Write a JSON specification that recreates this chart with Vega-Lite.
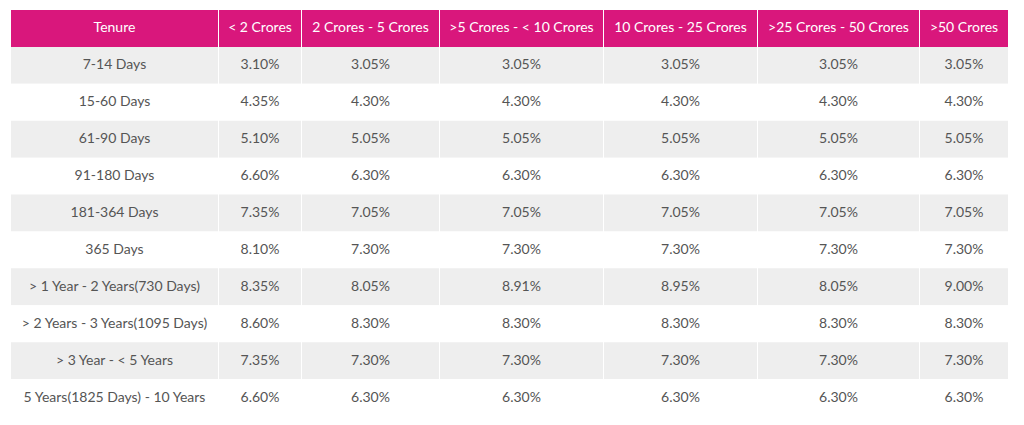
{
  "$schema": "https://vega.github.io/schema/vega-lite/v6.json",
  "padding": {"left": 11, "top": 10, "right": 0, "bottom": 0},
  "background": "#ffffff",
  "config": {
    "view": {"stroke": null},
    "concat": {"spacing": 1},
    "text": {"font": "Lato", "fontSize": 14}
  },
  "datasets": {
    "table": [
      {"tenure": "Tenure", "c1": "< 2 Crores", "c2": "2 Crores - 5 Crores", "c3": ">5 Crores - < 10 Crores", "c4": "10 Crores - 25 Crores", "c5": ">25 Crores - 50 Crores", "c6": ">50 Crores"},
      {"tenure": "7-14 Days", "c1": "3.10%", "c2": "3.05%", "c3": "3.05%", "c4": "3.05%", "c5": "3.05%", "c6": "3.05%"},
      {"tenure": "15-60 Days", "c1": "4.35%", "c2": "4.30%", "c3": "4.30%", "c4": "4.30%", "c5": "4.30%", "c6": "4.30%"},
      {"tenure": "61-90 Days", "c1": "5.10%", "c2": "5.05%", "c3": "5.05%", "c4": "5.05%", "c5": "5.05%", "c6": "5.05%"},
      {"tenure": "91-180 Days", "c1": "6.60%", "c2": "6.30%", "c3": "6.30%", "c4": "6.30%", "c5": "6.30%", "c6": "6.30%"},
      {"tenure": "181-364 Days", "c1": "7.35%", "c2": "7.05%", "c3": "7.05%", "c4": "7.05%", "c5": "7.05%", "c6": "7.05%"},
      {"tenure": "365 Days", "c1": "8.10%", "c2": "7.30%", "c3": "7.30%", "c4": "7.30%", "c5": "7.30%", "c6": "7.30%"},
      {"tenure": "> 1 Year - 2 Years(730 Days)", "c1": "8.35%", "c2": "8.05%", "c3": "8.91%", "c4": "8.95%", "c5": "8.05%", "c6": "9.00%"},
      {"tenure": "> 2 Years - 3 Years(1095 Days)", "c1": "8.60%", "c2": "8.30%", "c3": "8.30%", "c4": "8.30%", "c5": "8.30%", "c6": "8.30%"},
      {"tenure": "> 3 Year - < 5 Years", "c1": "7.35%", "c2": "7.30%", "c3": "7.30%", "c4": "7.30%", "c5": "7.30%", "c6": "7.30%"},
      {"tenure": "5 Years(1825 Days) - 10 Years", "c1": "6.60%", "c2": "6.30%", "c3": "6.30%", "c4": "6.30%", "c5": "6.30%", "c6": "6.30%"}
    ]
  },
  "data": {"name": "table"},
  "hconcat": [
    {
      "width": 207, "height": 406,
      "layer": [
        {"mark": {"type": "rect"},
         "encoding": {
           "x": {"value": 0}, "x2": {"value": "width"},
           "y": {"field": "tenure", "type": "nominal", "sort": null, "axis": null, "scale": {"paddingInner": 0, "paddingOuter": 0}},
           "color": {"field": "tenure", "type": "nominal", "sort": null, "legend": null,
             "scale": {"domain": ["Tenure", "7-14 Days", "15-60 Days", "61-90 Days", "91-180 Days", "181-364 Days", "365 Days", "> 1 Year - 2 Years(730 Days)", "> 2 Years - 3 Years(1095 Days)", "> 3 Year - < 5 Years", "5 Years(1825 Days) - 10 Years"],
                       "range": ["#d9177c", "#eeeeee", "#ffffff", "#eeeeee", "#ffffff", "#eeeeee", "#ffffff", "#eeeeee", "#ffffff", "#eeeeee", "#ffffff"]}}
         }},
        {"mark": {"type": "text", "baseline": "middle", "align": "center"},
         "encoding": {
           "y": {"field": "tenure", "type": "nominal", "sort": null},
           "text": {"field": "tenure"},
           "color": {"condition": {"test": "datum.tenure === 'Tenure'", "value": "#ffffff"}, "value": "#555555"}
         }}
      ]
    },
    {
      "width": 82, "height": 406,
      "layer": [
        {"mark": {"type": "rect"},
         "encoding": {
           "x": {"value": 0}, "x2": {"value": "width"},
           "y": {"field": "tenure", "type": "nominal", "sort": null, "axis": null, "scale": {"paddingInner": 0, "paddingOuter": 0}},
           "color": {"field": "tenure", "type": "nominal", "sort": null, "legend": null,
             "scale": {"domain": ["Tenure", "7-14 Days", "15-60 Days", "61-90 Days", "91-180 Days", "181-364 Days", "365 Days", "> 1 Year - 2 Years(730 Days)", "> 2 Years - 3 Years(1095 Days)", "> 3 Year - < 5 Years", "5 Years(1825 Days) - 10 Years"],
                       "range": ["#d9177c", "#eeeeee", "#ffffff", "#eeeeee", "#ffffff", "#eeeeee", "#ffffff", "#eeeeee", "#ffffff", "#eeeeee", "#ffffff"]}}
         }},
        {"mark": {"type": "text", "baseline": "middle", "align": "center"},
         "encoding": {
           "y": {"field": "tenure", "type": "nominal", "sort": null},
           "text": {"field": "c1"},
           "color": {"condition": {"test": "datum.tenure === 'Tenure'", "value": "#ffffff"}, "value": "#555555"}
         }}
      ]
    },
    {
      "width": 137, "height": 406,
      "layer": [
        {"mark": {"type": "rect"},
         "encoding": {
           "x": {"value": 0}, "x2": {"value": "width"},
           "y": {"field": "tenure", "type": "nominal", "sort": null, "axis": null, "scale": {"paddingInner": 0, "paddingOuter": 0}},
           "color": {"field": "tenure", "type": "nominal", "sort": null, "legend": null,
             "scale": {"domain": ["Tenure", "7-14 Days", "15-60 Days", "61-90 Days", "91-180 Days", "181-364 Days", "365 Days", "> 1 Year - 2 Years(730 Days)", "> 2 Years - 3 Years(1095 Days)", "> 3 Year - < 5 Years", "5 Years(1825 Days) - 10 Years"],
                       "range": ["#d9177c", "#eeeeee", "#ffffff", "#eeeeee", "#ffffff", "#eeeeee", "#ffffff", "#eeeeee", "#ffffff", "#eeeeee", "#ffffff"]}}
         }},
        {"mark": {"type": "text", "baseline": "middle", "align": "center"},
         "encoding": {
           "y": {"field": "tenure", "type": "nominal", "sort": null},
           "text": {"field": "c2"},
           "color": {"condition": {"test": "datum.tenure === 'Tenure'", "value": "#ffffff"}, "value": "#555555"}
         }}
      ]
    },
    {
      "width": 163, "height": 406,
      "layer": [
        {"mark": {"type": "rect"},
         "encoding": {
           "x": {"value": 0}, "x2": {"value": "width"},
           "y": {"field": "tenure", "type": "nominal", "sort": null, "axis": null, "scale": {"paddingInner": 0, "paddingOuter": 0}},
           "color": {"field": "tenure", "type": "nominal", "sort": null, "legend": null,
             "scale": {"domain": ["Tenure", "7-14 Days", "15-60 Days", "61-90 Days", "91-180 Days", "181-364 Days", "365 Days", "> 1 Year - 2 Years(730 Days)", "> 2 Years - 3 Years(1095 Days)", "> 3 Year - < 5 Years", "5 Years(1825 Days) - 10 Years"],
                       "range": ["#d9177c", "#eeeeee", "#ffffff", "#eeeeee", "#ffffff", "#eeeeee", "#ffffff", "#eeeeee", "#ffffff", "#eeeeee", "#ffffff"]}}
         }},
        {"mark": {"type": "text", "baseline": "middle", "align": "center"},
         "encoding": {
           "y": {"field": "tenure", "type": "nominal", "sort": null},
           "text": {"field": "c3"},
           "color": {"condition": {"test": "datum.tenure === 'Tenure'", "value": "#ffffff"}, "value": "#555555"}
         }}
      ]
    },
    {
      "width": 153, "height": 406,
      "layer": [
        {"mark": {"type": "rect"},
         "encoding": {
           "x": {"value": 0}, "x2": {"value": "width"},
           "y": {"field": "tenure", "type": "nominal", "sort": null, "axis": null, "scale": {"paddingInner": 0, "paddingOuter": 0}},
           "color": {"field": "tenure", "type": "nominal", "sort": null, "legend": null,
             "scale": {"domain": ["Tenure", "7-14 Days", "15-60 Days", "61-90 Days", "91-180 Days", "181-364 Days", "365 Days", "> 1 Year - 2 Years(730 Days)", "> 2 Years - 3 Years(1095 Days)", "> 3 Year - < 5 Years", "5 Years(1825 Days) - 10 Years"],
                       "range": ["#d9177c", "#eeeeee", "#ffffff", "#eeeeee", "#ffffff", "#eeeeee", "#ffffff", "#eeeeee", "#ffffff", "#eeeeee", "#ffffff"]}}
         }},
        {"mark": {"type": "text", "baseline": "middle", "align": "center"},
         "encoding": {
           "y": {"field": "tenure", "type": "nominal", "sort": null},
           "text": {"field": "c4"},
           "color": {"condition": {"test": "datum.tenure === 'Tenure'", "value": "#ffffff"}, "value": "#555555"}
         }}
      ]
    },
    {
      "width": 161, "height": 406,
      "layer": [
        {"mark": {"type": "rect"},
         "encoding": {
           "x": {"value": 0}, "x2": {"value": "width"},
           "y": {"field": "tenure", "type": "nominal", "sort": null, "axis": null, "scale": {"paddingInner": 0, "paddingOuter": 0}},
           "color": {"field": "tenure", "type": "nominal", "sort": null, "legend": null,
             "scale": {"domain": ["Tenure", "7-14 Days", "15-60 Days", "61-90 Days", "91-180 Days", "181-364 Days", "365 Days", "> 1 Year - 2 Years(730 Days)", "> 2 Years - 3 Years(1095 Days)", "> 3 Year - < 5 Years", "5 Years(1825 Days) - 10 Years"],
                       "range": ["#d9177c", "#eeeeee", "#ffffff", "#eeeeee", "#ffffff", "#eeeeee", "#ffffff", "#eeeeee", "#ffffff", "#eeeeee", "#ffffff"]}}
         }},
        {"mark": {"type": "text", "baseline": "middle", "align": "center"},
         "encoding": {
           "y": {"field": "tenure", "type": "nominal", "sort": null},
           "text": {"field": "c5"},
           "color": {"condition": {"test": "datum.tenure === 'Tenure'", "value": "#ffffff"}, "value": "#555555"}
         }}
      ]
    },
    {
      "width": 88, "height": 406,
      "layer": [
        {"mark": {"type": "rect"},
         "encoding": {
           "x": {"value": 0}, "x2": {"value": "width"},
           "y": {"field": "tenure", "type": "nominal", "sort": null, "axis": null, "scale": {"paddingInner": 0, "paddingOuter": 0}},
           "color": {"field": "tenure", "type": "nominal", "sort": null, "legend": null,
             "scale": {"domain": ["Tenure", "7-14 Days", "15-60 Days", "61-90 Days", "91-180 Days", "181-364 Days", "365 Days", "> 1 Year - 2 Years(730 Days)", "> 2 Years - 3 Years(1095 Days)", "> 3 Year - < 5 Years", "5 Years(1825 Days) - 10 Years"],
                       "range": ["#d9177c", "#eeeeee", "#ffffff", "#eeeeee", "#ffffff", "#eeeeee", "#ffffff", "#eeeeee", "#ffffff", "#eeeeee", "#ffffff"]}}
         }},
        {"mark": {"type": "text", "baseline": "middle", "align": "center"},
         "encoding": {
           "y": {"field": "tenure", "type": "nominal", "sort": null},
           "text": {"field": "c6"},
           "color": {"condition": {"test": "datum.tenure === 'Tenure'", "value": "#ffffff"}, "value": "#555555"}
         }}
      ]
    }
  ]
}
